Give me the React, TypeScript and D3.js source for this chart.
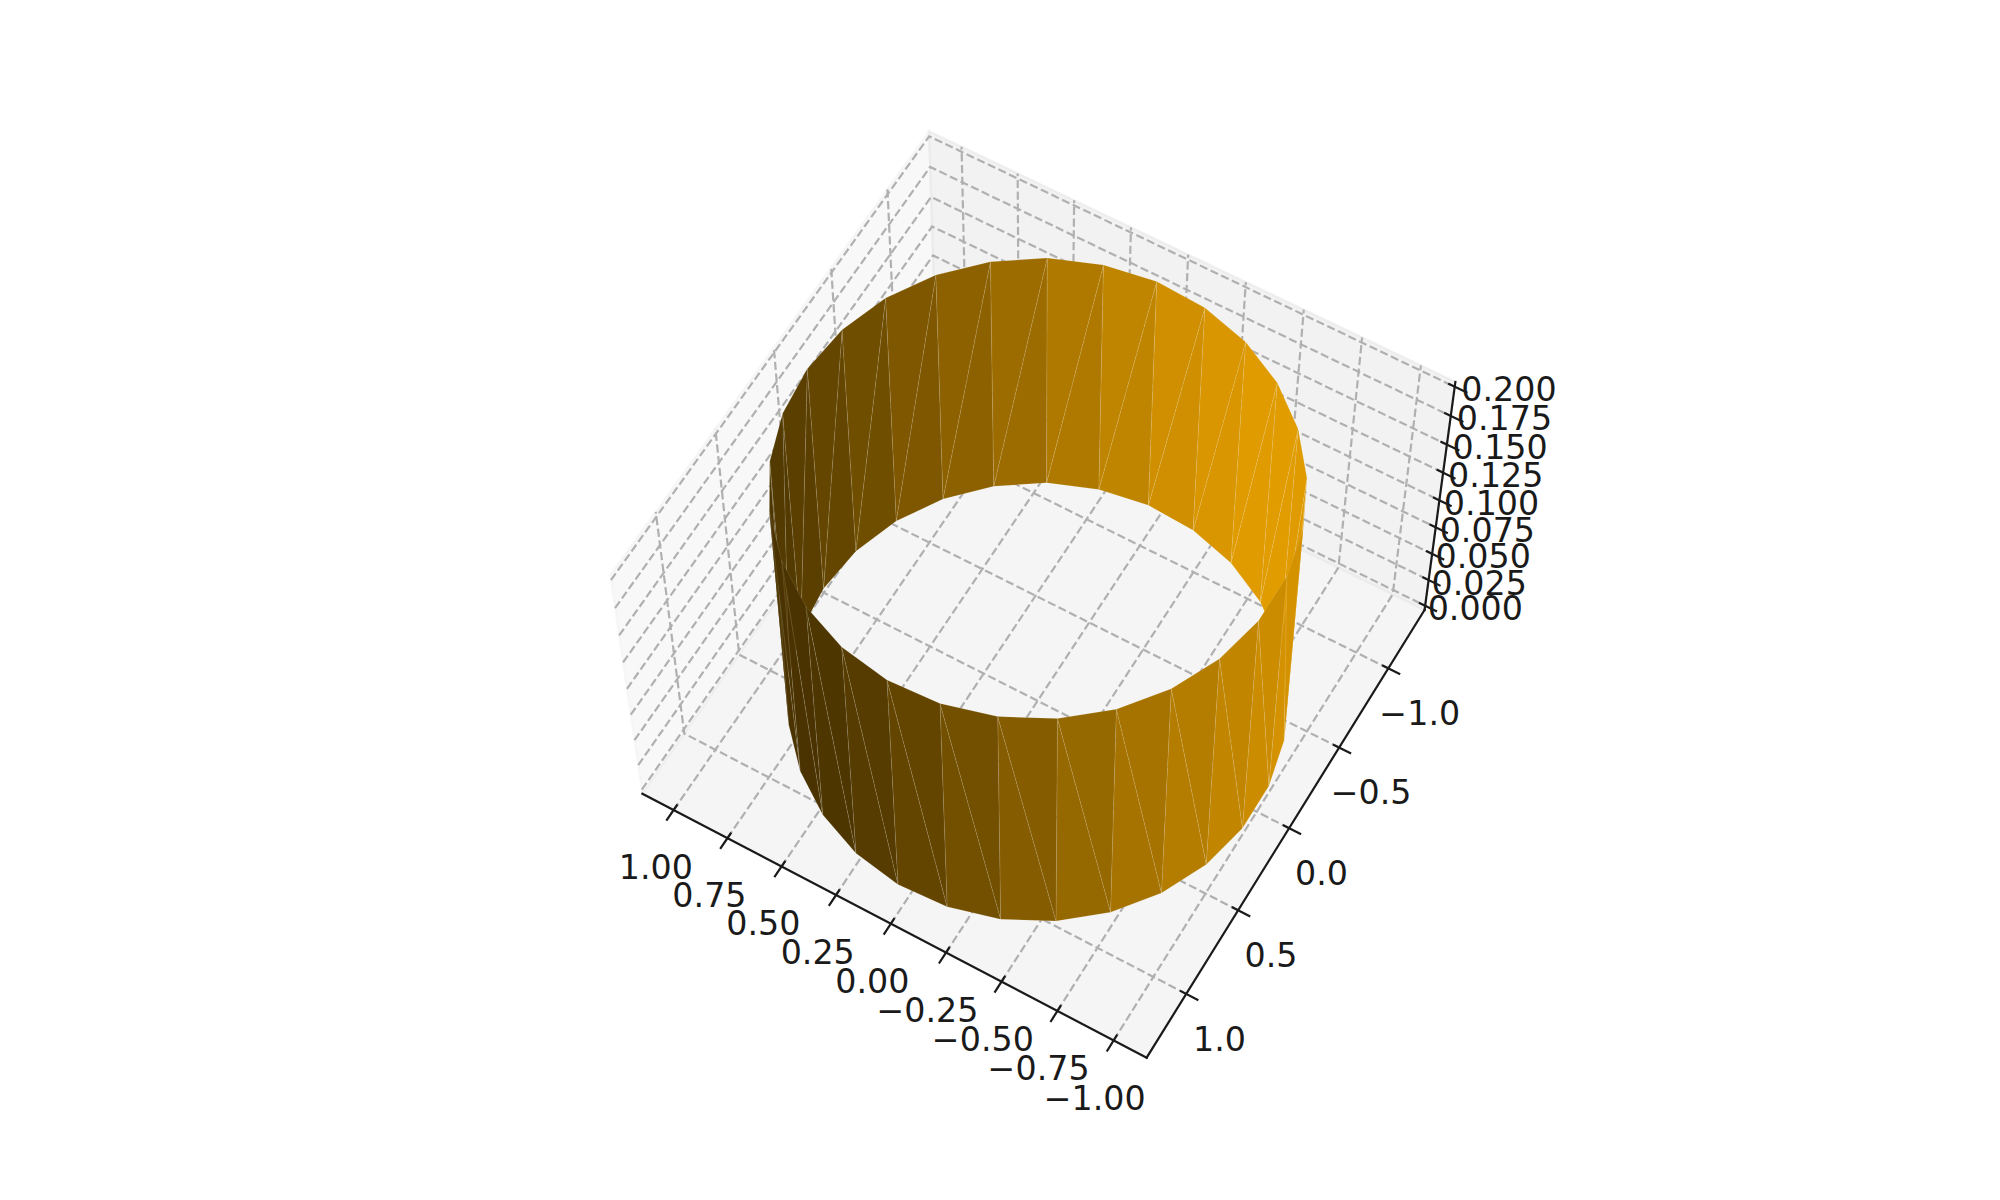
import React, { useEffect, useRef } from 'react';
import * as d3 from 'd3';

// ring of the cylinder (30 points, first and last coincide)
const ringX = [1, 0.977, 0.908, 0.796, 0.647, 0.468, 0.267, 0.054, -0.162, -0.37, -0.561, -0.726, -0.857, -0.948, -0.994, -0.994, -0.948, -0.857, -0.726, -0.561, -0.37, -0.162, 0.054, 0.267, 0.468, 0.647, 0.796, 0.908, 0.977, 1];
const ringY = [0, 0.258, 0.504, 0.726, 0.914, 1.061, 1.157, 1.199, 1.184, 1.115, 0.994, 0.826, 0.619, 0.383, 0.13, -0.13, -0.383, -0.619, -0.826, -0.994, -1.115, -1.184, -1.199, -1.157, -1.061, -0.914, -0.726, -0.504, -0.258, 0];
const ringZ = [0, 0.2];

const xTicks = [1, 0.75, 0.5, 0.25, 0, -0.25, -0.5, -0.75, -1];
const xTickLabels = ['1.00', '0.75', '0.50', '0.25', '0.00', '\u22120.25', '\u22120.50', '\u22120.75', '\u22121.00'];
const yTicks = [-1, -0.5, 0, 0.5, 1];
const yTickLabels = ['\u22121.0', '\u22120.5', '0.0', '0.5', '1.0'];
const zTicks = [0, 0.025, 0.05, 0.075, 0.1, 0.125, 0.15, 0.175, 0.2];
const zTickLabels = ['0.000', '0.025', '0.050', '0.075', '0.100', '0.125', '0.150', '0.175', '0.200'];

const xLim = [-1.1, 1.1];
const yLim = [-1.32, 1.32];
const zLim = [0, 0.2];

const ELEV = (60 * Math.PI) / 180;
const AZIM = (120 * Math.PI) / 180;
const DIST = 10;
const FOCAL = 499.5;
const CX = 1037.6;
const CY = 593.5;
const BASE = d3.rgb('#e69f00');
const LIGHT = [-0.6667, -0.6667, 0.3333];
const FONT = 33.3;

type P3 = [number, number, number];

const App = () => {
  const svgRef = useRef<SVGSVGElement>(null);

  useEffect(() => {
    const svg = d3.select(svgRef.current);
    svg.selectAll('*').remove();

    const xBox = d3.scaleLinear().domain(xLim).range([-0.57145, 0.57145]);
    const yBox = d3.scaleLinear().domain(yLim).range([-0.57145, 0.57145]);
    const zBox = d3.scaleLinear().domain(zLim).range([-0.4286, 0.4286]);

    const se = Math.sin(ELEV), ce = Math.cos(ELEV), sa = Math.sin(AZIM), ca = Math.cos(AZIM);

    const depth = (p: P3) => {
      const bx = xBox(p[0]), by = yBox(p[1]), bz = zBox(p[2]);
      return ce * ca * bx + ce * sa * by + se * bz;
    };
    const project = (p: P3): [number, number] => {
      const bx = xBox(p[0]), by = yBox(p[1]), bz = zBox(p[2]);
      const u = -sa * bx + ca * by;
      const v = -se * ca * bx - se * sa * by + ce * bz;
      const s = 1 / (1 - depth(p) / DIST);
      return [CX + FOCAL * u * s, CY - FOCAL * v * s];
    };

    // panes and ticks reach a little past the limits, like mplot3d
    const xd = (xLim[1] - xLim[0]) / 12, yd = (yLim[1] - yLim[0]) / 12, zd = (zLim[1] - zLim[0]) / 12;
    const x0 = xLim[0] - xd / 4, x1 = xLim[1] + xd / 4;
    const y0 = yLim[0] - yd / 4, y1 = yLim[1] + yd / 4;
    const z0 = zLim[0] - zd / 4, z1 = zLim[1] + zd / 4;

    const line = d3.line<P3>().x(d => project(d)[0]).y(d => project(d)[1]);

    const panes: { pts: P3[]; color: string }[] = [
      { pts: [[x1, y0, z0], [x1, y1, z0], [x1, y1, z1], [x1, y0, z1]], color: 'rgba(242,242,242,0.5)' },
      { pts: [[x0, y0, z0], [x1, y0, z0], [x1, y0, z1], [x0, y0, z1]], color: 'rgba(230,230,230,0.5)' },
      { pts: [[x0, y0, z0], [x1, y0, z0], [x1, y1, z0], [x0, y1, z0]], color: 'rgba(236,236,236,0.5)' },
    ];
    svg.selectAll('.pane')
      .data(panes)
      .join('path')
      .attr('class', 'pane')
      .attr('d', d => line(d.pts) + 'Z')
      .attr('fill', d => d.color)
      .attr('stroke', d => d.color)
      .attr('stroke-width', 2.2);

    // gridlines run across the floor and up the wall
    const grid: P3[][] = [
      ...xTicks.map((t): P3[] => [[t, y1, z0], [t, y0, z0], [t, y0, z1]]),
      ...yTicks.map((t): P3[] => [[x0, t, z0], [x1, t, z0], [x1, t, z1]]),
      ...zTicks.map((t): P3[] => [[x1, y1, t], [x1, y0, t], [x0, y0, t]]),
    ];
    svg.selectAll('.grid')
      .data(grid)
      .join('path')
      .attr('class', 'grid')
      .attr('d', d => line(d))
      .attr('fill', 'none')
      .attr('stroke', '#b0b0b0')
      .attr('stroke-width', 2.2)
      .attr('stroke-dasharray', '8.2 3.55');

    // axis lines and ticks
    const ink = '#1a1a1a';
    const axes: P3[][] = [
      [[x1, y1, z0], [x0, y1, z0]],
      [[x0, y1, z0], [x0, y0, z0]],
      [[x0, y0, z0], [x0, y0, z1]],
    ];
    const ticks: P3[][] = [
      ...xTicks.map((t): P3[] => [[t, y1 - 0.13 * yd, z0], [t, y1 + 0.27 * yd, z0]]),
      ...yTicks.map((t): P3[] => [[x0 + 0.13 * xd, t, z0], [x0 - 0.27 * xd, t, z0]]),
      ...zTicks.map((t): P3[] => [[x0 + 0.13 * xd, y0, t], [x0 - 0.27 * xd, y0, t]]),
    ];
    svg.selectAll('.axis')
      .data([...axes, ...ticks])
      .join('path')
      .attr('class', 'axis')
      .attr('d', d => line(d))
      .attr('fill', 'none')
      .attr('stroke', ink)
      .attr('stroke-width', 2.2)
      .attr('stroke-linecap', 'square');

    // tick labels, centred on a point pushed out of the box
    const lx = 0.9 * xd, ly = 0.9 * yd, lz = 0.83 * zd;
    const labels: { p: P3; text: string; dx: number; dy: number }[] = [
      ...xTicks.map((t, i) => ({ p: [t, y1 + ly, z0 - lz] as P3, text: xTickLabels[i], dx: 2.5, dy: 11 })),
      ...yTicks.map((t, i) => ({ p: [x0 - lx, t, z0 - lz] as P3, text: yTickLabels[i], dx: -3, dy: 13 })),
      ...zTicks.map((t, i) => ({ p: [x0 - lx, y0 - ly, t] as P3, text: zTickLabels[i], dx: -5, dy: 15.5 })),
    ];
    svg.selectAll('.label')
      .data(labels)
      .join('text')
      .attr('class', 'label')
      .attr('x', d => project(d.p)[0] + d.dx)
      .attr('y', d => project(d.p)[1] + d.dy + 0.365 * FONT)
      .attr('text-anchor', 'middle')
      .attr('font-family', '"DejaVu Sans"')
      .attr('font-size', FONT)
      .attr('fill', ink)
      .text(d => d.text);

    // two triangles per ring step, shaded by their normal, painted back to front
    const tris: P3[][] = [];
    d3.range(ringX.length - 1).forEach(i => {
      const top0: P3 = [ringX[i], ringY[i], ringZ[1]];
      const bot0: P3 = [ringX[i], ringY[i], ringZ[0]];
      const top1: P3 = [ringX[i + 1], ringY[i + 1], ringZ[1]];
      const bot1: P3 = [ringX[i + 1], ringY[i + 1], ringZ[0]];
      tris.push([top0, bot0, bot1], [top0, bot1, top1]);
    });
    const shade = (t: P3[]) => {
      const a = [t[1][0] - t[0][0], t[1][1] - t[0][1], t[1][2] - t[0][2]];
      const b = [t[2][0] - t[0][0], t[2][1] - t[0][1], t[2][2] - t[0][2]];
      const n = [a[1] * b[2] - a[2] * b[1], a[2] * b[0] - a[0] * b[2], a[0] * b[1] - a[1] * b[0]];
      const len = Math.hypot(n[0], n[1], n[2]);
      const s = (n[0] * LIGHT[0] + n[1] * LIGHT[1] + n[2] * LIGHT[2]) / len;
      const f = 0.3 + 0.7 * ((s + 1) / 2);
      return d3.rgb(BASE.r * f, BASE.g * f, BASE.b * f).formatRgb();
    };
    const ordered = d3.sort(tris, t => d3.mean(t, depth) as number);
    svg.selectAll('.tri')
      .data(ordered)
      .join('path')
      .attr('class', 'tri')
      .attr('d', d => line(d) + 'Z')
      .attr('fill', shade)
      .attr('stroke', 'rgba(255,255,255,0.15)')
      .attr('stroke-width', 0.7);
  }, []);

  return (
    <svg
      ref={svgRef}
      width={2000}
      height={1200}
      style={{ position: 'absolute', left: 0, top: 0, background: '#fff' }}
    />
  );
};

export default App;
